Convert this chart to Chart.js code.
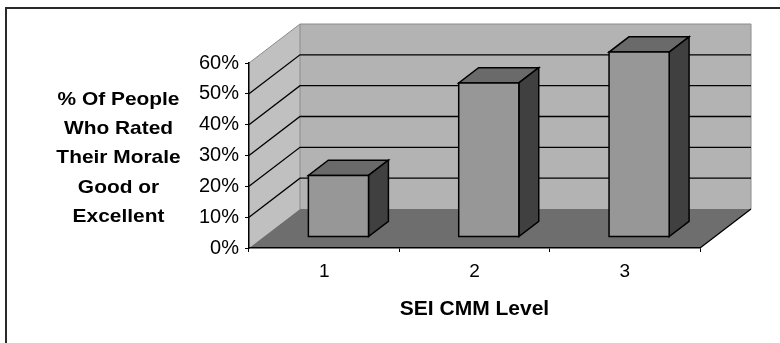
<!DOCTYPE html>
<html>
<head>
<meta charset="utf-8">
<script src="https://cdn.jsdelivr.net/npm/chart.js@4.4.1/dist/chart.umd.min.js"></script>
<style>
  html, body { margin: 0; padding: 0; background: #fff; }
  canvas { display: block; }
</style>
</head>
<body>
<canvas id="c" width="780" height="343"></canvas>
<script>
// Morale survey by SEI CMM level
const levels = ['1', '2', '3'];
const moraleShare = [0.20, 0.50, 0.60];
const valueTicks = [0, 0.1, 0.2, 0.3, 0.4, 0.5, 0.6];
const yTitleLines = ['% Of People', 'Who Rated', 'Their Morale', 'Good or', 'Excellent'];
const xTitle = 'SEI CMM Level';

const FONT = "'Liberation Sans', Arial, sans-serif";
// oblique depth of the plot box (front plane -> back wall)
const DEPTH = { dx: 51, dy: -39 };
// bars occupy this slice of the depth
const BAR_FRONT = 0.28, BAR_BACK = 0.67;

function poly(ctx, pts) {
  ctx.beginPath();
  ctx.moveTo(pts[0][0], pts[0][1]);
  for (let i = 1; i < pts.length; i++) ctx.lineTo(pts[i][0], pts[i][1]);
  ctx.closePath();
}

const box3d = {
  id: 'box3d',
  beforeDraw(chart) {
    const ctx = chart.ctx;
    const { left: L, right: R } = chart.chartArea;
    const ys = chart.scales.y;
    const y0 = ys.getPixelForValue(valueTicks[0]);
    const yTop = ys.getPixelForValue(valueTicks[valueTicks.length - 1]);
    const { dx, dy } = DEPTH;
    ctx.save();
    // outer frame
    ctx.strokeStyle = '#2a2a2a';
    ctx.lineWidth = 2;
    ctx.beginPath();
    ctx.moveTo(6, 343); ctx.lineTo(6, 8); ctx.lineTo(780, 8);
    ctx.stroke();
    // side wall
    ctx.fillStyle = '#c0c0c0';
    poly(ctx, [[L, y0], [L, yTop], [L + dx, yTop + dy], [L + dx, y0 + dy]]);
    ctx.fill();
    // back wall
    ctx.fillStyle = '#b3b3b3';
    ctx.fillRect(L + dx, yTop + dy, R - L, y0 - yTop);
    // floor
    ctx.fillStyle = '#6e6e6e';
    poly(ctx, [[L, y0], [R, y0], [R + dx, y0 + dy], [L + dx, y0 + dy]]);
    ctx.fill();
    // wall edges
    ctx.strokeStyle = '#8c8c8c';
    ctx.lineWidth = 1;
    ctx.beginPath();
    ctx.moveTo(L, yTop); ctx.lineTo(L + dx, yTop + dy); ctx.lineTo(R + dx, yTop + dy); ctx.lineTo(R + dx, y0 + dy);
    ctx.moveTo(L + dx, yTop + dy); ctx.lineTo(L + dx, y0 + dy);
    ctx.stroke();
    // gridlines on side and back walls
    ctx.strokeStyle = '#000';
    ctx.lineWidth = 1.3;
    ctx.beginPath();
    valueTicks.slice(1, -1).forEach(v => {
      const p = ys.getPixelForValue(v);
      ctx.moveTo(L, p); ctx.lineTo(L + dx, p + dy); ctx.lineTo(R + dx, p + dy);
    });
    ctx.moveTo(R, y0); ctx.lineTo(R + dx, y0 + dy);
    ctx.stroke();
    ctx.restore();
  },
  afterDatasetsDraw(chart) {
    const ctx = chart.ctx;
    const { dx, dy } = DEPTH;
    const ox = dx * BAR_FRONT, oy = dy * BAR_FRONT;
    const bx = dx * (BAR_BACK - BAR_FRONT), by = dy * (BAR_BACK - BAR_FRONT);
    ctx.save();
    ctx.lineWidth = 1.5;
    ctx.strokeStyle = '#000';
    ctx.lineJoin = 'miter';
    chart.getDatasetMeta(0).data.forEach(bar => {
      const { x, y, base, width } = bar.getProps(['x', 'y', 'base', 'width'], true);
      const l = x - width / 2 + ox, r = x + width / 2 + ox;
      const t = y + oy, b = base + oy;
      // top face
      ctx.fillStyle = '#6a6a6a';
      poly(ctx, [[l, t], [r, t], [r + bx, t + by], [l + bx, t + by]]);
      ctx.fill(); ctx.stroke();
      // side face
      ctx.fillStyle = '#404040';
      poly(ctx, [[r, t], [r + bx, t + by], [r + bx, b + by], [r, b]]);
      ctx.fill(); ctx.stroke();
      // front face
      ctx.fillStyle = '#979797';
      poly(ctx, [[l, t], [r, t], [r, b], [l, b]]);
      ctx.fill(); ctx.stroke();
    });
    ctx.restore();
  },
  afterDraw(chart) {
    const ctx = chart.ctx;
    ctx.save();
    ctx.font = 'bold 19px ' + FONT;
    ctx.fillStyle = '#000';
    ctx.textAlign = 'center';
    ctx.textBaseline = 'alphabetic';
    yTitleLines.forEach((line, i) => {
      ctx.save();
      ctx.translate(118.5, 105 + i * 29.2);
      ctx.scale(1.1, 1);
      ctx.fillText(line, 0, 0);
      ctx.restore();
    });
    ctx.restore();
  }
};

new Chart(document.getElementById('c'), {
  type: 'bar',
  data: {
    labels: levels,
    datasets: [{
      data: moraleShare,
      backgroundColor: 'rgba(0,0,0,0)',
      borderWidth: 0,
      categoryPercentage: 1,
      barPercentage: 0.4
    }]
  },
  options: {
    responsive: false,
    animation: false,
    devicePixelRatio: 1,
    layout: { padding: { top: 63, right: 80, left: 0, bottom: 0 } },
    plugins: { legend: { display: false }, tooltip: { enabled: false } },
    scales: {
      x: {
        grid: { drawOnChartArea: false, drawTicks: true, tickLength: 4, color: '#000', offset: true },
        border: { color: '#000', width: 1.5 },
        ticks: { font: { family: FONT, size: 19 }, color: '#000', padding: 8, maxRotation: 0 },
        title: {
          display: true, text: xTitle, color: '#000',
          font: { family: FONT, size: 21, weight: 'bold' },
          padding: { top: 0, bottom: 21 }
        },
        afterFit(s) { s.height = 95; }
      },
      y: {
        min: 0, max: 0.6,
        afterBuildTicks(s) { s.ticks = valueTicks.map(v => ({ value: v })); },
        grid: { drawOnChartArea: false, drawTicks: true, tickLength: 4, color: '#000' },
        border: { color: '#000', width: 1.5 },
        ticks: {
          font: { family: FONT, size: 20 }, color: '#000', padding: 6,
          callback: v => Math.round(v * 100) + '%'
        },
        afterFit(s) { s.width = 249; }
      }
    }
  },
  plugins: [box3d]
});
</script>
</body>
</html>
